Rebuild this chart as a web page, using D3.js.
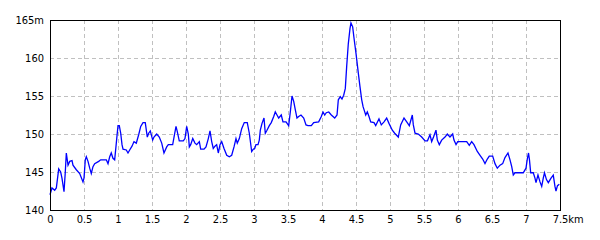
<!DOCTYPE html>
<html>
<head>
<meta charset="utf-8">
<script src="https://cdn.jsdelivr.net/npm/d3@7"></script>
<style>
  body { margin: 0; background: #fff; }
  text { font-family: "DejaVu Sans Condensed", "Liberation Sans", sans-serif; font-size: 11px; fill: #000; }
</style>
</head>
<body>
<svg width="600" height="240"></svg>
<script>
// distance along the route (km)
var distKm = [0.000, 0.029, 0.069, 0.093, 0.128, 0.157, 0.176, 0.206, 0.225, 0.240, 0.265, 0.290, 0.324, 0.338, 0.387, 0.437, 0.485, 0.500, 0.519, 0.534,
  0.559, 0.584, 0.607, 0.632, 0.657, 0.716, 0.746, 0.828, 0.853, 0.878, 0.901, 0.926, 0.951, 0.975, 1.000, 1.019, 1.040, 1.059, 1.074, 1.122,
  1.147, 1.172, 1.206, 1.235, 1.269, 1.304, 1.334, 1.368, 1.401, 1.431, 1.451, 1.475, 1.510, 1.529, 1.569, 1.607, 1.643, 1.676, 1.716, 1.740,
  1.804, 1.824, 1.853, 1.872, 1.901, 1.960, 1.985, 2.010, 2.034, 2.049, 2.069, 2.099, 2.132, 2.157, 2.196, 2.216, 2.265, 2.294, 2.328, 2.353,
  2.378, 2.401, 2.426, 2.451, 2.475, 2.500, 2.525, 2.559, 2.599, 2.637, 2.672, 2.706, 2.735, 2.754, 2.784, 2.819, 2.857, 2.901, 2.931, 2.966,
  2.990, 3.010, 3.029, 3.059, 3.078, 3.093, 3.118, 3.147, 3.166, 3.191, 3.225, 3.254, 3.290, 3.313, 3.338, 3.363, 3.401, 3.426, 3.471, 3.510,
  3.534, 3.559, 3.584, 3.607, 3.632, 3.657, 3.691, 3.731, 3.765, 3.794, 3.843, 3.878, 3.951, 3.990, 4.015, 4.040, 4.063, 4.099, 4.137, 4.187,
  4.221, 4.240, 4.269, 4.294, 4.319, 4.343, 4.363, 4.387, 4.412, 4.426, 4.451, 4.471, 4.500, 4.534, 4.559, 4.584, 4.604, 4.618, 4.643, 4.666,
  4.691, 4.716, 4.765, 4.790, 4.838, 4.872, 4.912, 4.951, 4.985, 5.034, 5.069, 5.122, 5.157, 5.206, 5.246, 5.284, 5.328, 5.343, 5.368, 5.416,
  5.466, 5.515, 5.551, 5.588, 5.613, 5.640, 5.676, 5.696, 5.725, 5.760, 5.809, 5.843, 5.882, 5.922, 5.941, 5.971, 5.996, 6.128, 6.166, 6.201,
  6.235, 6.284, 6.324, 6.363, 6.397, 6.431, 6.460, 6.510, 6.544, 6.578, 6.618, 6.657, 6.691, 6.735, 6.765, 6.790, 6.813, 6.838, 6.960, 7.000,
  7.019, 7.037, 7.051, 7.069, 7.107, 7.132, 7.147, 7.176, 7.206, 7.231, 7.254, 7.272, 7.301, 7.328, 7.368, 7.401, 7.426, 7.441, 7.463, 7.490];

// elevation (m)
var elevM = [142.0, 142.9, 142.6, 142.9, 145.4, 145.0, 144.2, 142.4, 145.0, 147.5, 145.9, 146.4, 146.5, 145.9, 145.3, 144.8, 143.7, 144.2, 146.6, 147.0,
  146.4, 145.5, 144.8, 145.7, 146.1, 146.4, 146.6, 146.6, 146.1, 147.0, 147.5, 146.8, 146.6, 148.8, 151.1, 151.1, 150.1, 148.6, 148.0, 147.9,
  147.5, 147.9, 148.4, 149.0, 148.8, 149.9, 151.0, 151.5, 151.5, 149.6, 150.1, 150.4, 149.2, 149.6, 150.0, 149.6, 148.8, 147.5, 148.3, 148.6,
  148.6, 149.6, 151.0, 150.3, 149.1, 149.1, 149.4, 151.0, 150.0, 148.3, 148.6, 149.4, 148.8, 148.6, 149.0, 148.0, 148.0, 148.3, 149.4, 150.4,
  149.0, 148.1, 148.4, 148.6, 147.5, 148.6, 149.0, 148.1, 147.2, 147.0, 147.2, 148.3, 149.4, 148.8, 149.4, 150.7, 151.5, 151.5, 150.1, 147.7,
  148.0, 148.1, 148.6, 148.6, 149.2, 150.5, 151.4, 152.1, 150.1, 150.5, 151.1, 151.5, 152.3, 152.9, 152.5, 152.1, 152.5, 151.6, 151.6, 151.1,
  152.9, 155.0, 154.3, 153.2, 152.1, 152.3, 152.5, 152.1, 151.2, 151.1, 151.1, 151.5, 151.6, 152.3, 152.9, 152.5, 152.8, 152.9, 152.5, 152.1,
  152.5, 154.5, 154.9, 154.6, 155.1, 156.0, 158.9, 161.9, 163.9, 164.6, 164.1, 162.6, 160.6, 158.0, 156.2, 154.5, 153.6, 153.2, 152.5, 152.9,
  152.3, 151.6, 151.5, 151.1, 152.0, 151.2, 151.6, 152.1, 151.4, 150.5, 150.1, 149.6, 151.2, 152.1, 151.6, 151.1, 152.5, 151.2, 150.1, 150.0,
  149.6, 149.1, 149.1, 149.9, 149.0, 149.6, 150.5, 149.2, 148.6, 149.2, 149.6, 150.0, 149.6, 150.0, 149.2, 148.6, 149.0, 149.0, 148.5, 149.0,
  148.6, 147.7, 147.2, 146.7, 146.1, 146.7, 147.1, 147.1, 146.1, 145.5, 145.9, 146.1, 146.9, 147.5, 146.6, 145.7, 144.6, 144.9, 144.9, 145.5,
  146.7, 147.5, 146.6, 144.9, 144.9, 144.2, 143.6, 144.6, 143.7, 143.1, 144.2, 144.9, 144.0, 143.6, 144.2, 144.6, 143.1, 142.5, 143.2, 143.4];

var xTicks = [0, 0.5, 1, 1.5, 2, 2.5, 3, 3.5, 4, 4.5, 5, 5.5, 6, 6.5, 7, 7.5];
var yTicks = [140, 145, 150, 155, 160, 165];

var svg = d3.select("svg"),
    margin = {top: 20, right: 40, bottom: 30, left: 50},
    width = +svg.attr("width") - margin.left - margin.right,
    height = +svg.attr("height") - margin.top - margin.bottom;

var x = d3.scaleLinear().domain([0, 7.5]).range([0, width]);
var y = d3.scaleLinear().domain([140, 165]).range([height, 0]);

var g = svg.append("g")
    .attr("transform", "translate(" + margin.left + "," + margin.top + ")");

// dashed grid
g.selectAll(".vgrid")
  .data(xTicks.slice(1, -1))
  .enter().append("line")
  .attr("x1", function(d) { return Math.round(x(d)) + 0.5; })
  .attr("x2", function(d) { return Math.round(x(d)) + 0.5; })
  .attr("y1", 0)
  .attr("y2", height)
  .style("stroke", "#c0c0c0")
  .style("stroke-dasharray", "4,3");

g.selectAll(".hgrid")
  .data(yTicks.slice(1, -1))
  .enter().append("line")
  .attr("x1", 0)
  .attr("x2", width)
  .attr("y1", function(d) { return Math.round(y(d)) + 0.5; })
  .attr("y2", function(d) { return Math.round(y(d)) + 0.5; })
  .style("stroke", "#c0c0c0")
  .style("stroke-dasharray", "4,3");

// elevation line
var line = d3.line()
  .x(function(d, i) { return x(distKm[i]); })
  .y(function(d) { return y(d); });

g.append("path")
  .datum(elevM)
  .attr("d", line)
  .style("fill", "none")
  .style("stroke", "#0000ff")
  .style("stroke-width", "1.3");

// frame
g.append("rect")
  .attr("x", 0.5)
  .attr("y", 0.5)
  .attr("width", width)
  .attr("height", height)
  .style("fill", "none")
  .style("stroke", "#000")
  .style("stroke-width", "1");

// axes (labels only)
var xAxis = g.append("g")
  .attr("transform", "translate(0," + height + ")")
  .call(d3.axisBottom(x).tickValues(xTicks).tickSize(0).tickPadding(5)
    .tickFormat(function(d) { return d3.format("~g")(d); }));
xAxis.select(".domain").remove();
xAxis.selectAll("text").style("font-size", "11px").style("font-family", null);

// "km" sits after the last label, number stays centred on the tick
var last = xAxis.selectAll(".tick").filter(function(d) { return d === 7.5; }).select("text");
var w = last.node().getComputedTextLength();
last.attr("text-anchor", "start").attr("x", -w / 2).append("tspan").text("km");

var yAxis = g.append("g")
  .call(d3.axisLeft(y).tickValues(yTicks).tickSize(0).tickPadding(6)
    .tickFormat(function(d) { return d === 165 ? d + "m" : d; }));
yAxis.select(".domain").remove();
yAxis.selectAll("text").style("font-size", "11px").style("font-family", null);
</script>
</body>
</html>
